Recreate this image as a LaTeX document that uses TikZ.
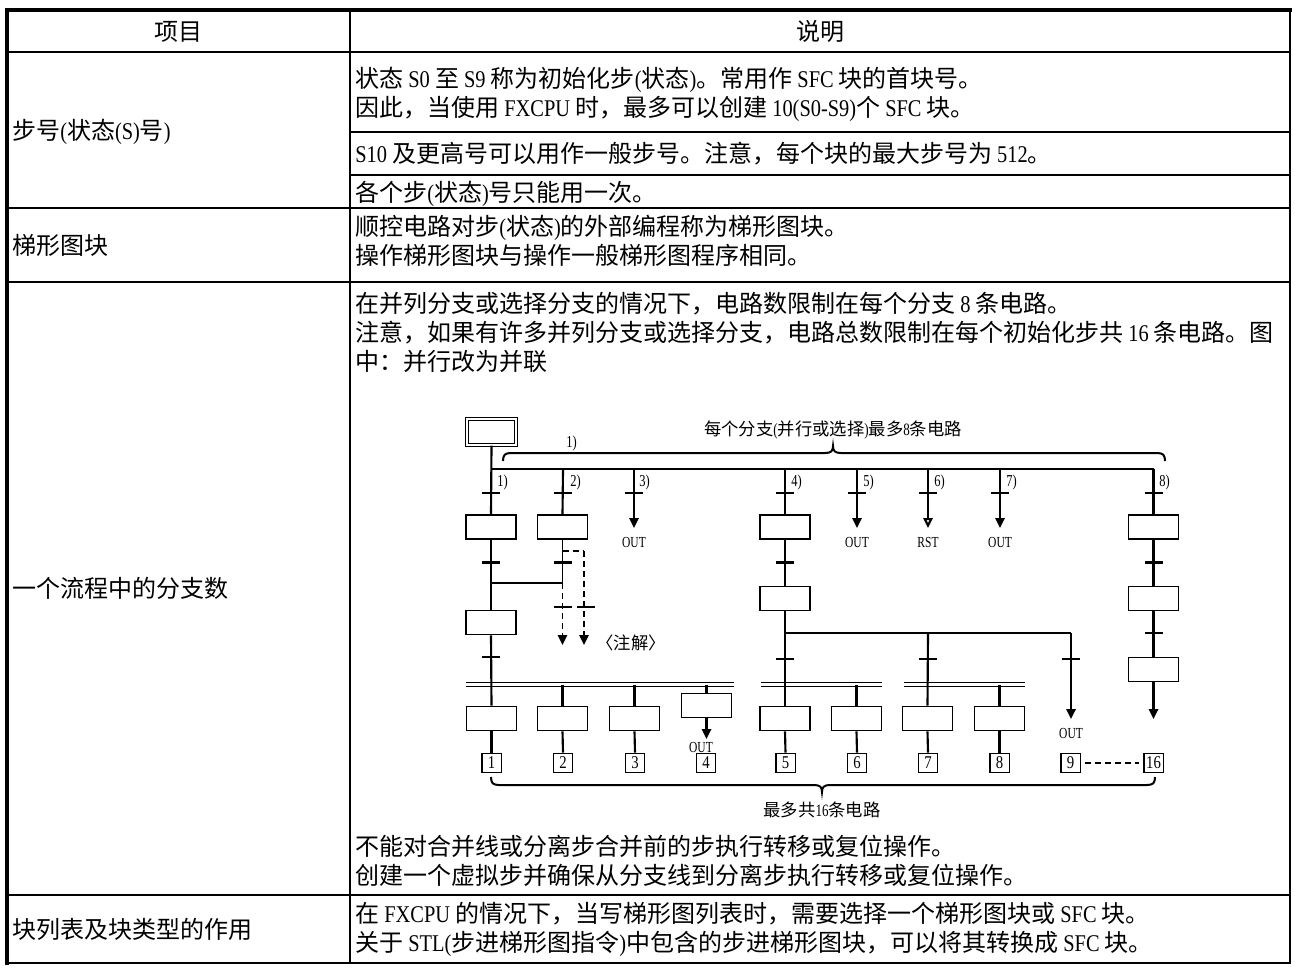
\documentclass[tikz,border=0pt]{standalone}
\usepackage{fontspec}
\setmainfont{Noto Sans CJK SC}
\newfontfamily\latn[FakeStretch=0.85]{Liberation Serif}
\newfontfamily\latc[FakeStretch=0.75]{Liberation Serif}
\newfontfamily\latd[FakeStretch=0.82]{Liberation Serif}
\newcommand\LL[1]{{\latn#1}}
\newcommand\LC[1]{{\latc#1}}
\usetikzlibrary{arrows.meta}
\tikzset{
 body/.style={inner sep=0pt, font=\fontsize{18pt}{20pt}\selectfont, text height=15.8pt, text depth=2.2pt},
 rtext/.style={body, anchor=west},
 small/.style={inner sep=0pt, font=\fontsize{13pt}{15pt}\selectfont, text height=11.4pt, text depth=1.6pt},
 lab/.style={inner sep=0pt, anchor=west, font=\latc\fontsize{12.5pt}{14pt}\selectfont},
 outlab/.style={inner sep=0pt, font=\latc\fontsize{11.5pt}{13pt}\selectfont},
 stepbox/.style={draw, fill=white, line width=1.2pt, minimum width=37.5pt, minimum height=18pt, inner sep=0pt},
 numbox/.style={draw, fill=white, line width=1pt, minimum width=14.5pt, minimum height=14.5pt, inner sep=0pt, font=\latd\fontsize{13.5pt}{14pt}\selectfont},
 tbar/.style={fill=black, minimum width=13.5pt, minimum height=1.7pt, inner sep=0pt},
 sfc/.style={line width=1.6pt},
 thinl/.style={line width=1.1pt},
 outa/.style={sfc, -{Triangle[length=7.5pt,width=7pt]}},
 outo/.style={sfc, -{Triangle[open,length=7.5pt,width=7pt]}},
 dashl/.style={line width=1.3pt, dash pattern=on 4.5pt off 3pt},
 dashla/.style={dashl, -{Triangle[length=7.5pt,width=7pt]}},
 dbl/.style={double, double distance=1.6pt, line width=1.1pt},
 bracel/.style={line width=1.5pt},
}
\begin{document}
\begin{tikzpicture}[x=0.75pt,y=-0.75pt]
\useasboundingbox (0,0) rectangle (1295,974);

% ---------------- table frame ----------------
\draw[line width=1.4pt] (350,10) -- (350,963);
\draw[line width=1.4pt] (350,132) -- (1290,132);
\draw[line width=1.4pt] (350,175) -- (1290,175);
\foreach \yy in {52,208,282,895} \draw[line width=2.1pt] (7,\yy) -- (1290,\yy);
\draw[line width=1.6pt, line cap=rect] (1290,10) -- (1290,963) -- (7,963);
\draw[line width=2.6pt, line cap=rect] (7,963) -- (7,10) -- (1290,10);

% ---------------- header ----------------
\node[body] (h1) at (178,31) {项目};
\node[body] (h2) at (820,31) {说明};

% ---------------- left column ----------------
\node[rtext] (c1) at (12,130) {步号\LL{(}状态\LL{(S)}号\LL{)}};
\node[rtext] (c2) at (12,245) {梯形图块};
\node[rtext] (c3) at (12,588) {一个流程中的分支数};
\node[rtext] (c4) at (12,929) {块列表及块类型的作用};

% ---------------- right column ----------------
\node[rtext] (r1a) at (355,78) {状态\LL{\ S0\ }至\LL{\ S9\ }称为初始化步\LL{(}状态\LL{)}。常用作\LL{\ SFC\ }块的首块号。};
\node[rtext] (r1b) at (355,107) {因此，当使用\LL{\ FXCPU\ }时，最多可以创建\LL{\ 10(S0-S9)}个\LL{\ SFC\ }块。};
\node[rtext] (r1c) at (355,153) {\LL{S10\ }及更高号可以用作一般步号。注意，每个块的最大步号为\LL{\ 512}。};
\node[rtext] (r1d) at (355,192) {各个步\LL{(}状态\LL{)}号只能用一次。};
\node[rtext] (r2a) at (355,226) {顺控电路对步\LL{(}状态\LL{)}的外部编程称为梯形图块。};
\node[rtext] (r2b) at (355,255) {操作梯形图块与操作一般梯形图程序相同。};
\node[rtext] (r3a) at (355,303) {在并列分支或选择分支的情况下，电路数限制在每个分支\LL{\ 8\ }条电路。};
\node[rtext] (r3b) at (355,332) {注意，如果有许多并列分支或选择分支，电路总数限制在每个初始化步共\LL{\ 16\ }条电路。图};
\node[rtext] (r3c) at (355,361) {中：并行改为并联};
\node[rtext] (r3d) at (355,846) {不能对合并线或分离步合并前的步执行转移或复位操作。};
\node[rtext] (r3e) at (355,875) {创建一个虚拟步并确保从分支线到分离步执行转移或复位操作。};
\node[rtext] (r4a) at (355,913) {在\LL{\ FXCPU\ }的情况下，当写梯形图列表时，需要选择一个梯形图块或\LL{\ SFC\ }块。};
\node[rtext] (r4b) at (355,942) {关于\LL{\ STL(}步进梯形图指令\LL{)}中包含的步进梯形图块，可以将其转换成\LL{\ SFC\ }块。};

% ---------------- SFC diagram ----------------
% braces and labels
\draw[bracel] (503,461) .. controls (503,455) and (505,453) .. (511,453) -- (825,453) .. controls (831,453) and (833,451) .. (833,446) .. controls (833,451) and (835,453) .. (841,453) -- (1157,453) .. controls (1163,453) and (1165,455) .. (1165,461);
\node[small] (toplab) at (833,429) {每个分支\LC{(}并行或选择\LC{)}最多\LC{8}条电路};
\node[lab] (tl1) at (566,443) {1)};
\draw[bracel] (491,777) .. controls (491,783) and (493,785) .. (499,785) -- (814,785) .. controls (820,785) and (822,787) .. (822,792) .. controls (822,787) and (824,785) .. (830,785) -- (1147,785) .. controls (1153,785) and (1155,783) .. (1155,777);
\node[small] (botlab) at (822,810) {最多共\LC{16}条电路};

% double (simultaneous) lines
\coordinate (dl1a) at (466,684.5); \coordinate (dl1b) at (734,684.5);
\coordinate (dl2a) at (761,684.5); \coordinate (dl2b) at (882,684.5);
\coordinate (dl3a) at (904,684.5); \coordinate (dl3b) at (1025,684.5);
\draw[dbl] (dl1a) -- (dl1b);
\draw[dbl] (dl2a) -- (dl2b);
\draw[dbl] (dl3a) -- (dl3b);

% bus
\coordinate (j1) at (491,469);
\coordinate (j2) at (563,469);
\coordinate (j3) at (634,469);
\coordinate (j4) at (785,469);
\coordinate (j5) at (857,469);
\coordinate (j6) at (928,469);
\coordinate (j7) at (1000,469);
\coordinate (j8) at (1153.5,469);
\draw[thinl] (j1) -- (j8);

% initial step
\node[draw, fill=white, double, double distance=1.2pt, line width=0.9pt, minimum width=37pt, minimum height=19.6pt, inner sep=0pt] (init) at (491.5,432) {};

% step boxes
\node[stepbox] (s1a) at (491,527) {};
\node[stepbox] (s1b) at (562.5,527) {};
\node[stepbox] (s1d) at (785,527) {};
\node[stepbox] (s1h) at (1153.5,527) {};
\node[stepbox] (s2d) at (785,598.5) {};
\node[stepbox] (s2h) at (1153.5,598.5) {};
\node[stepbox] (s3a) at (491,622.5) {};
\node[stepbox] (s3h) at (1153.5,669.5) {};
\node[stepbox] (l1) at (491.5,718.5) {};
\node[stepbox] (l2) at (562.5,718.5) {};
\node[stepbox] (l3) at (634.5,718.5) {};
\node[stepbox] (l4) at (706.5,705.5) {};
\node[stepbox] (l5) at (785,718.5) {};
\node[stepbox] (l6) at (856.5,718.5) {};
\node[stepbox] (l7) at (927.5,718.5) {};
\node[stepbox] (l8) at (999.5,718.5) {};

% number boxes
\node[numbox] (n1) at (491.5,763) {1};
\node[numbox] (n2) at (563,763) {2};
\node[numbox] (n3) at (635,763) {3};
\node[numbox] (n4) at (706,763) {4};
\node[numbox] (n5) at (785.5,763) {5};
\node[numbox] (n6) at (857,763) {6};
\node[numbox] (n7) at (928,763) {7};
\node[numbox] (n8) at (999.5,763) {8};
\node[numbox] (n9) at (1070.5,763) {9};
\node[numbox] (n16) at (1153.5,763) {16};

% helper coordinates
\coordinate (o3) at (634,528);
\coordinate (o5) at (857,528);
\coordinate (o6) at (928,528);
\coordinate (o7) at (1000,528);
\coordinate (jb) at (562.5,583);
\coordinate (ja) at (491,583);
\coordinate (da) at (562.5,551);
\coordinate (db) at (584,551);
\coordinate (dc) at (584,645);
\coordinate (dd) at (562.5,645);
\coordinate (sp1) at (785,633);
\coordinate (sp2) at (928,633);
\coordinate (sp3) at (1071,633);
\coordinate (o9) at (1071,719);
\coordinate (o16) at (1153.5,719);
\coordinate (o4) at (706.5,739);
\coordinate (dn2) at (562.5,684.5);
\coordinate (dn3) at (634.5,684.5);
\coordinate (dn4) at (706.5,684.5);
\coordinate (dn6) at (856.5,684.5);
\coordinate (dn8) at (999.5,684.5);

% connectors
\draw[sfc] (init.south) -- (s1a.north);
\draw[sfc] (s1a.south) -- (s3a.north);
\draw[sfc] (s3a.south) -- (l1.north);
\draw[sfc] (l1.south) -- (n1.north);
\draw[sfc] (j2) -- (s1b.north);
\draw[thinl] (s1b.south) -- (jb);
\draw[thinl] (jb) -- (ja);
\draw[dashla] (jb) -- (dd);
\draw[dashl] (da) -- (db);
\draw[dashla] (db) -- (dc);
\draw[outa] (j3) -- (o3);
\draw[sfc] (j4) -- (s1d.north);
\draw[sfc] (s1d.south) -- (s2d.north);
\draw[sfc] (s2d.south) -- (sp1);
\draw[thinl] (sp1) -- (sp3);
\draw[sfc] (sp1) -- (l5.north);
\draw[sfc] (sp2) -- (l7.north);
\draw[outa] (sp3) -- (o9);
\draw[outa] (j5) -- (o5);
\draw[outo] (j6) -- (o6);
\draw[outa] (j7) -- (o7);
\draw[sfc] (j8) -- (s1h.north);
\draw[sfc] (s1h.south) -- (s2h.north);
\draw[sfc] (s2h.south) -- (s3h.north);
\draw[outa] (s3h.south) -- (o16);
\draw[sfc] (dn2) -- (l2.north);
\draw[sfc] (dn3) -- (l3.north);
\draw[sfc] (dn4) -- (l4.north);
\draw[outa] (l4.south) -- (o4);
\draw[sfc] (dn6) -- (l6.north);
\draw[sfc] (dn8) -- (l8.north);
\draw[sfc] (l2.south) -- (n2.north);
\draw[sfc] (l3.south) -- (n3.north);
\draw[sfc] (l5.south) -- (n5.north);
\draw[sfc] (l6.south) -- (n6.north);
\draw[sfc] (l7.south) -- (n7.north);
\draw[sfc] (l8.south) -- (n8.north);
\draw[dashl, shorten <=3pt, shorten >=3pt] (n9.east) -- (n16.west);

% transitions
\foreach \xx/\nm in {491/a,563/b,634/c,785/d,857/e,928/f,1000/g,1153.5/h}
  \node[tbar] (ta\nm) at (\xx,493) {};
\foreach \xx/\nm in {491/a,562.5/b,785/d,1153.5/h}
  \node[tbar] (tb\nm) at (\xx,562.5) {};
\node[tbar] (tdx) at (562.5,607) {};
\node[tbar] (tdy) at (585.5,607) {};
\node[tbar] (tch) at (1153.5,633) {};
\node[tbar] (tca) at (491,657) {};
\foreach \xx/\nm in {785/d,928/f,1071/i}
  \node[tbar] (tc\nm) at (\xx,659) {};

% branch labels
\node[lab] (b1) at (497,482) {1)};
\node[lab] (b2) at (570,482) {2)};
\node[lab] (b3) at (639,482) {3)};
\node[lab] (b4) at (791,482) {4)};
\node[lab] (b5) at (863,482) {5)};
\node[lab] (b6) at (934,482) {6)};
\node[lab] (b7) at (1006,482) {7)};
\node[lab] (b8) at (1159,482) {8)};

% output labels
\node[outlab] (u3) at (634,542) {OUT};
\node[outlab] (u5) at (857,542) {OUT};
\node[outlab] (u6) at (928,542) {RST};
\node[outlab] (u7) at (1000,542) {OUT};
\node[outlab] (u4) at (701,747) {OUT};
\node[outlab] (u9) at (1071,733) {OUT};
\node[small] (note) at (631,643) {〈注解〉};
\end{tikzpicture}
\end{document}
